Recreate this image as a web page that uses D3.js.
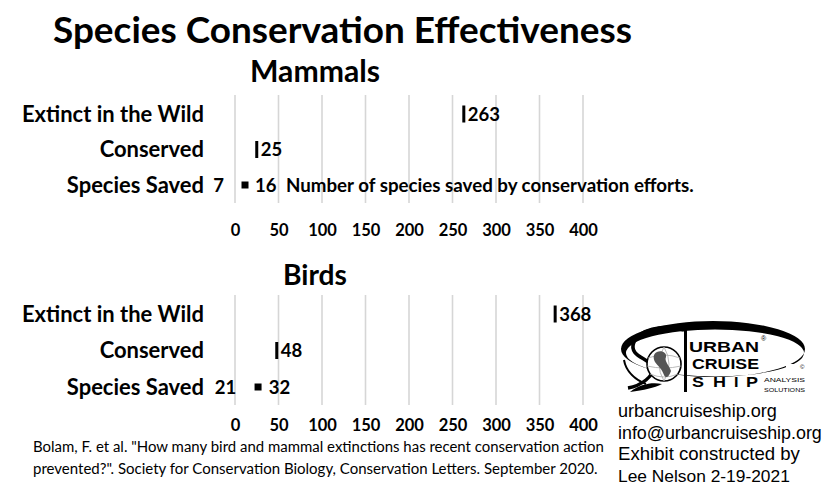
<!DOCTYPE html>
<html><head><meta charset="utf-8">
<script src="https://cdn.jsdelivr.net/npm/d3@7"></script>
<style>body{margin:0;background:#fff;} svg{display:block;}</style>
</head><body>
<script>
// ---- data ----
const groups = ["Mammals", "Birds"];
const categories = ["Extinct in the Wild", "Conserved", "Species Saved"];
const extinctInWild = [263, 368];
const conserved = [25, 48];
const savedLow = [7, 21];
const savedHigh = [16, 32];
const tickValues = [0, 50, 100, 150, 200, 250, 300, 350, 400];
const annotation = "Number of species saved by conservation efforts.";
const titleText = "Species Conservation Effectiveness";
const sourceLines = ["Bolam, F. et al. \"How many bird and mammal extinctions has recent conservation action",
  "prevented?\". Society for Conservation Biology, Conservation Letters. September 2020."];
const contactLines = ["urbancruiseship.org", "info@urbancruiseship.org", "Exhibit constructed by", "Lee Nelson 2-19-2021"];

const W = 839, H = 496;
const BOLD = "Lato, 'Open Sans', sans-serif";
const svg = d3.select("body").append("svg").attr("width", W).attr("height", H);

function fitSize(sel, target) {
  const n = sel.node();
  const w = n.getComputedTextLength();
  const fs = parseFloat(sel.attr("font-size"));
  return fs * target / w;
}
function fit(sel, target) {
  sel.attr("font-size", fitSize(sel, target).toFixed(2));
  return sel;
}

const x = d3.scaleLinear().domain([0, 400]).range([235, 583]);

svg.append("text").attr("x", 53).attr("y", 43).attr("font-family", BOLD).attr("font-weight", 700)
  .attr("font-size", 34).text(titleText).call(s => fit(s, 579));

// common category label size from widest label
const probe = svg.append("text").attr("font-family", BOLD).attr("font-weight", 700).attr("font-size", 20).text(categories[0]);
const catSize = fitSize(probe, 182);
probe.remove();

const panels = [
  {title: groups[0], titleX: 315, titleY: 82, titleW: 130, gTop: 95, gBot: 203, rows: [114, 185], axisY: 232},
  {title: groups[1], titleX: 315, titleY: 285, titleW: 64, gTop: 295, gBot: 405, rows: [314, 387], axisY: 427}
];

panels.forEach((p, i) => {
  const g = svg.append("g");
  const y = d3.scalePoint().domain(categories).range(p.rows);
  g.append("text").attr("x", p.titleX).attr("y", p.titleY).attr("text-anchor", "middle")
    .attr("font-family", BOLD).attr("font-weight", 700).attr("font-size", 26).text(p.title)
    .call(s => fit(s, p.titleW));
  // gridlines
  g.selectAll("line.grid").data(tickValues).join("line").attr("class", "grid")
    .attr("x1", d => x(d)).attr("x2", d => x(d)).attr("y1", p.gTop).attr("y2", p.gBot)
    .attr("stroke", "#d6d6d6").attr("stroke-width", 1.6);
  // axis
  const ax = g.append("g").attr("transform", `translate(0,${p.axisY - 12})`)
    .call(d3.axisBottom(x).tickValues(tickValues).tickSize(0).tickPadding(0));
  ax.select(".domain").remove();
  ax.selectAll("text").attr("font-family", BOLD).attr("font-weight", 700).attr("font-size", 16.5)
    .attr("fill", "#000").attr("dy", "0.95em");
  // category labels
  g.selectAll("text.cat").data(categories).join("text").attr("class", "cat")
    .attr("x", 204).attr("y", d => y(d)).attr("dy", "0.36em").attr("text-anchor", "end")
    .attr("font-family", BOLD).attr("font-weight", 700).attr("font-size", catSize.toFixed(2)).text(d => d);
  // dash markers
  const dashes = [{c: categories[0], v: extinctInWild[i]}, {c: categories[1], v: conserved[i]}];
  g.selectAll("rect.dash").data(dashes).join("rect").attr("class", "dash")
    .attr("x", d => x(d.v) - 1.5).attr("y", d => y(d.c) - 8.5).attr("width", 3).attr("height", 17).attr("fill", "#000");
  g.selectAll("text.dv").data(dashes).join("text").attr("class", "dv")
    .attr("x", d => x(d.v) + 4).attr("y", d => y(d.c)).attr("dy", "0.36em")
    .attr("font-family", BOLD).attr("font-weight", 700).attr("font-size", 18.5).text(d => d.v);
  // species saved range
  const ys = y(categories[2]);
  const mid = (savedLow[i] + savedHigh[i]) / 2;
  g.append("rect").attr("x", x(mid) - 3.5).attr("y", ys - 3.5).attr("width", 7).attr("height", 7).attr("fill", "#000");
  g.append("text").attr("x", x(savedLow[i]) - 17).attr("y", ys).attr("dy", "0.36em").attr("text-anchor", "end")
    .attr("font-family", BOLD).attr("font-weight", 700).attr("font-size", 18.5).text(savedLow[i]);
  g.append("text").attr("x", x(savedHigh[i]) + 6).attr("y", ys).attr("dy", "0.36em")
    .attr("font-family", BOLD).attr("font-weight", 700).attr("font-size", 18.5).text(savedHigh[i]);
  if (i === 0) {
    g.append("text").attr("x", 286).attr("y", ys).attr("dy", "0.36em")
      .attr("font-family", BOLD).attr("font-weight", 700).attr("font-size", 16).text(annotation)
      .call(s => fit(s, 408));
  }
});

// source
sourceLines.forEach((t, k) => {
  svg.append("text").attr("x", 33).attr("y", 452 + k * 22).attr("font-family", "Lato, 'Noto Sans', sans-serif")
    .attr("font-size", 15).text(t).call(s => fit(s, k === 0 ? 571 : 565));
});

// contact
const cw = [159, 204, 182, 172];
contactLines.forEach((t, k) => {
  svg.append("text").attr("x", 618).attr("y", 417 + k * 21.5).attr("font-family", "'Liberation Sans', Arial, sans-serif")
    .attr("font-size", 18).text(t).call(s => fit(s, cw[k]));
});

// logo
const logo = svg.append("g");
const defs = svg.append("defs");
defs.append("clipPath").attr("id", "ringclip").append("path")
  .attr("d", "M600 300 H839 V364 L786 364 L786 400 H600 Z");
logo.append("path").attr("clip-path", "url(#ringclip)").attr("fill-rule", "evenodd").attr("fill", "#000")
  .attr("d", (() => {
    const e = (cx, cy, rx, ry) => `M${cx - rx} ${cy} A${rx} ${ry} 0 1 0 ${cx + rx} ${cy} A${rx} ${ry} 0 1 0 ${cx - rx} ${cy} Z`;
    return e(713, 349, 92, 28) + e(715, 353, 89, 23.5);
  })());
// left swoosh
logo.append("path").attr("fill", "none").attr("stroke", "#000").attr("stroke-width", 3.5)
  .attr("d", "M684 330 C660 324 640 330 634 342 C628 356 648 358 652 366 C656 376 640 386 628 388");
logo.append("path").attr("fill", "none").attr("stroke", "#000").attr("stroke-width", 2)
  .attr("d", "M624 360 C626 372 636 380 646 384");
logo.append("path").attr("fill", "#000")
  .attr("d", "M630 392 C640 384 652 382 662 384 C654 388 644 390 630 392 Z");
// globe
logo.append("circle").attr("cx", 664).attr("cy", 364).attr("r", 17).attr("fill", "#fff").attr("stroke", "#000").attr("stroke-width", 1.6);
logo.append("path").attr("fill", "none").attr("stroke", "#aaa").attr("stroke-width", 0.8)
  .attr("d", "M648 358 Q664 352 680 358 M647 366 Q664 370 681 366 M650 374 Q664 380 678 374 M664 347 Q654 364 664 381 M664 347 Q674 364 664 381");
logo.append("path").attr("fill", "#555")
  .attr("d", "M657 352 C662 350 667 353 666 357 C664 361 669 365 671 371 C669 377 666 379 664 375 C662 369 658 366 655 362 C653 358 653 354 657 352 Z");
// vertical bar
logo.append("rect").attr("x", 684).attr("y", 328).attr("width", 3).attr("height", 64).attr("fill", "#000");
const LF = "'Liberation Sans', Arial, sans-serif";
const LFS = 15.5;
logo.append("text").attr("x", 689).attr("y", 351.5).attr("font-family", LF).attr("font-weight", 700).attr("font-size", LFS)
  .attr("textLength", 70).attr("lengthAdjust", "spacingAndGlyphs").text("URBAN");
logo.append("text").attr("x", 692).attr("y", 369).attr("font-family", LF).attr("font-weight", 700).attr("font-size", LFS)
  .attr("textLength", 67).attr("lengthAdjust", "spacingAndGlyphs").text("CRUISE");
["S", "H", "I", "P"].forEach((c, k) => {
  logo.append("text").attr("x", [692, 713, 734, 746][k]).attr("y", 386.5).attr("font-family", LF).attr("font-weight", 700)
    .attr("font-size", LFS).attr("textLength", [12, 13, 4.5, 12][k]).attr("lengthAdjust", "spacingAndGlyphs").text(c);
});
logo.append("text").attr("x", 761).attr("y", 341).attr("font-family", LF).attr("font-size", 7).text("®");
logo.append("text").attr("x", 800).attr("y", 369).attr("font-family", LF).attr("font-size", 6).text("©");
logo.append("text").attr("x", 764).attr("y", 381.5).attr("font-family", LF).attr("font-size", 5.5)
  .attr("textLength", 41).attr("lengthAdjust", "spacingAndGlyphs").text("ANALYSIS");
logo.append("text").attr("x", 764).attr("y", 391.5).attr("font-family", LF).attr("font-size", 5.5)
  .attr("textLength", 41).attr("lengthAdjust", "spacingAndGlyphs").text("SOLUTIONS");
</script>
</body></html>
